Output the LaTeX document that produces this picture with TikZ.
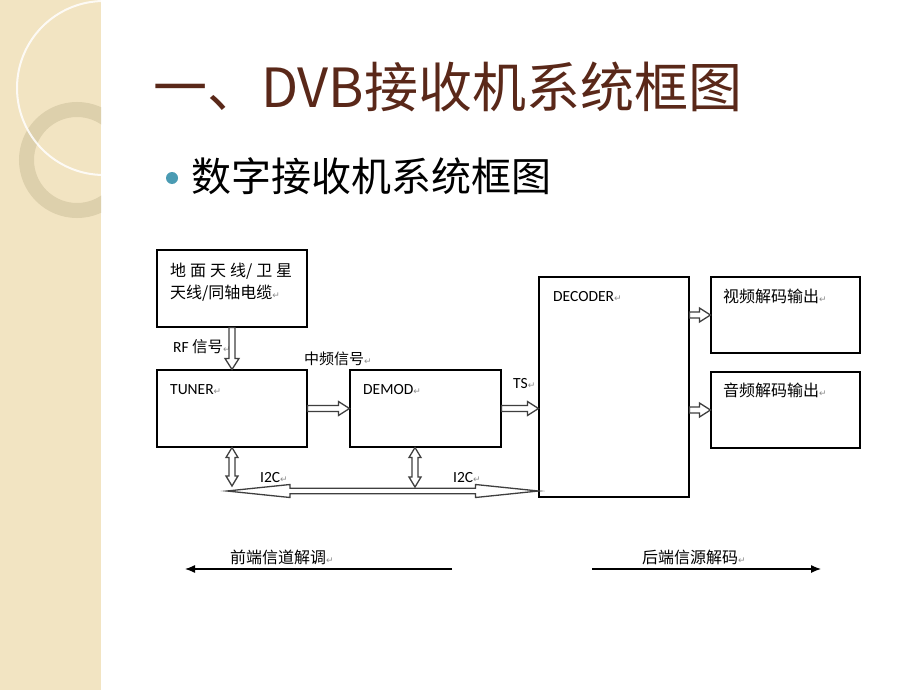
\documentclass[tikz,border=0pt]{standalone}
\usepackage{fontspec}
\setmainfont{Carlito}
\newfontfamily\cjk{Noto Sans CJK SC}
\newfontfamily\symb{DejaVu Sans}
\usetikzlibrary{calc,arrows.meta}
\definecolor{stripbeige}{HTML}{F2E4C2}
\definecolor{ringtan}{HTML}{DDD0AC}
\definecolor{titlebrown}{HTML}{5A2819}
\definecolor{bulletteal}{HTML}{4A9BB3}
\definecolor{arrowgray}{HTML}{3F3F3F}
\definecolor{markgray}{HTML}{8C8C8C}
\newcommand\retmark{{\symb\fontsize{9}{9}\selectfont\textcolor{markgray}{↵}}}
\tikzset{
  tiplen/.store in=\tiplen, tiplen=11pt,
  tiphalf/.store in=\tiphalf, tiphalf=7pt,
  shafthalf/.store in=\shafthalf, shafthalf=3pt,
  box/.style={draw, line width=1.1pt, inner sep=0pt, minimum width=150, minimum height=77},
  lbl/.style={anchor=base west, inner sep=0pt, font=\fontsize{15.5}{18}\selectfont, text=black},
  zh/.style={anchor=base west, inner sep=0pt, font=\cjk\fontsize{16}{18}\selectfont},
  hollow/.style={draw=arrowgray, fill=white, line width=1.3pt},
  blockarrow/.style={hollow, to path={
    let \p1=(\tikztostart), \p2=(\tikztotarget),
        \n1={atan2(\y2-\y1,\x2-\x1)}, \n2={veclen(\x2-\x1,\y2-\y1)} in
    ([shift={(\p1)},rotate=\n1]0pt,-\shafthalf)
    -- ([shift={(\p1)},rotate=\n1]\n2-\tiplen,-\shafthalf)
    -- ([shift={(\p1)},rotate=\n1]\n2-\tiplen,-\tiphalf)
    -- ([shift={(\p1)},rotate=\n1]\n2,0pt)
    -- ([shift={(\p1)},rotate=\n1]\n2-\tiplen,\tiphalf)
    -- ([shift={(\p1)},rotate=\n1]\n2-\tiplen,\shafthalf)
    -- ([shift={(\p1)},rotate=\n1]0pt,\shafthalf) -- cycle}},
  blockboth/.style={hollow, to path={
    let \p1=(\tikztostart), \p2=(\tikztotarget),
        \n1={atan2(\y2-\y1,\x2-\x1)}, \n2={veclen(\x2-\x1,\y2-\y1)} in
    ([shift={(\p1)},rotate=\n1]0pt,0pt)
    -- ([shift={(\p1)},rotate=\n1]\tiplen,-\tiphalf)
    -- ([shift={(\p1)},rotate=\n1]\tiplen,-\shafthalf)
    -- ([shift={(\p1)},rotate=\n1]\n2-\tiplen,-\shafthalf)
    -- ([shift={(\p1)},rotate=\n1]\n2-\tiplen,-\tiphalf)
    -- ([shift={(\p1)},rotate=\n1]\n2,0pt)
    -- ([shift={(\p1)},rotate=\n1]\n2-\tiplen,\tiphalf)
    -- ([shift={(\p1)},rotate=\n1]\n2-\tiplen,\shafthalf)
    -- ([shift={(\p1)},rotate=\n1]\tiplen,\shafthalf)
    -- ([shift={(\p1)},rotate=\n1]\tiplen,\tiphalf) -- cycle}},
  flow/.style={line width=1.2pt, -{Latex[length=10pt,width=8pt]}}
}
\begin{document}
\begin{tikzpicture}[x=1pt,y=-1pt]
  \useasboundingbox (0,0) rectangle (920,690);
  \fill[white] (0,0) rectangle (920,690);
  \fill[stripbeige] (0,0) rectangle (101,690);
  \begin{scope}
    \clip (0,0) rectangle (101,690);
    \draw[ringtan, line width=15] (77,160) circle (50.5pt);
    \draw[white, line width=2, opacity=.85] (104,88) circle (87pt);
  \end{scope}
  \node[anchor=base west, inner sep=0pt, font=\cjk\fontsize{54}{60}\selectfont, text=titlebrown]
    (title) at (153,107) {一、DVB接收机系统框图};
  \fill[bulletteal] (172,178) circle (6pt);
  \node[anchor=base west, inner sep=0pt, font=\cjk\fontsize{40}{46}\selectfont]
    (sub) at (191,191) {数字接收机系统框图};
  \node[box] (ant) at (232,288.5) {};
  \node[box] (tuner) at (232,408.5) {};
  \node[box, minimum width=151] (demod) at (425.5,408.5) {};
  \node[box, minimum height=220] (decoder) at (614,387) {};
  \node[box, minimum width=149, minimum height=76] (video) at (785.5,315) {};
  \node[box, minimum width=149, minimum height=76] (audio) at (785.5,410) {};
  \node[zh] (antl1) at (170,276) {\hbox to 122pt{地\hfill 面\hfill 天\hfill 线/\hfill 卫\hfill 星}};
  \node[zh] (antl2) at (170,298) {天线/同轴电缆\retmark};
  \node[lbl] (tunerl) at (170,394) {TUNER\retmark};
  \node[lbl] (demodl) at (363,394) {DEMOD\retmark};
  \node[lbl] (decoderl) at (553,301) {DECODER\retmark};
  \node[zh] (videol) at (723,302) {视频解码输出\retmark};
  \node[zh] (audiol) at (723,396) {音频解码输出\retmark};
  \node[lbl] (rf) at (173,352.5) {RF {\cjk 信号}\retmark};
  \node[zh, font=\cjk\fontsize{15}{18}\selectfont] (ifsig) at (304,364) {中频信号\retmark};
  \node[lbl] (ts) at (513,388) {TS\retmark};
  \node[lbl] (i2ca) at (260,482) {I2C\retmark};
  \node[lbl] (i2cb) at (453,482) {I2C\retmark};
  \node[zh] (front) at (230,563) {前端信道解调\retmark};
  \node[zh] (back) at (642,563) {后端信源解码\retmark};
  \coordinate (busl) at (227,491);
  \coordinate (tap1) at (232,486);
  \coordinate (tap2) at (415,487);
  \coordinate (frontr) at (452,569);
  \coordinate (frontl) at (185,569);
  \coordinate (backl) at (592,569);
  \coordinate (backr) at (821,569);
  \begin{scope}
    \draw[blockarrow] (ant.south) to (tuner.north);
    \draw[blockarrow] (tuner.east) to (demod.west);
    \draw[blockarrow] (demod.east) to (demod.east -| decoder.west);
    \draw[blockarrow] (decoder.east |- video.west) to (video.west);
    \draw[blockarrow] (decoder.east |- audio.west) to (audio.west);
    \draw[blockboth, tiplen=63pt, tiphalf=6.5pt, shafthalf=2.7pt] (busl) to (busl -| decoder.west);
    \draw[blockboth, tiplen=10pt, tiphalf=6pt] (tuner.south) to (tap1);
    \draw[blockboth, tiplen=10pt, tiphalf=6pt] (demod.south -| tap2) to (tap2);
  \end{scope}
  \draw[flow] (frontr) to (frontl);
  \draw[flow] (backl) to (backr);
\end{tikzpicture}
\end{document}
